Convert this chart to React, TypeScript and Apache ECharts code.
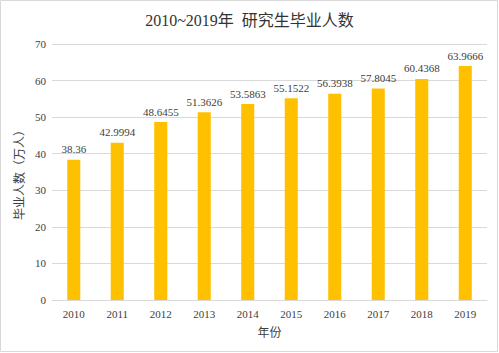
import React, { useEffect, useRef } from "react";
import * as echarts from "echarts";

const years = ["2010", "2011", "2012", "2013", "2014", "2015", "2016", "2017", "2018", "2019"];
const graduates = [38.36, 42.9994, 48.6455, 51.3626, 53.5863, 55.1522, 56.3938, 57.8045, 60.4368, 63.9666];
const titleText = "2010~2019年  研究生毕业人数";
const yName = "毕业人数（万人）";
const xName = "年份";

const serif = "'Liberation Serif', 'Noto Sans CJK SC', serif";
const cjk = "'Noto Sans CJK SC', sans-serif";

export default function App() {
  const ref = useRef<HTMLDivElement>(null);
  useEffect(() => {
    if (!ref.current) return;
    const chart = echarts.init(ref.current, undefined, { renderer: "svg" });
    chart.setOption({
      animation: false,
      backgroundColor: "#ffffff",
      title: {
        text: titleText,
        left: "center",
        top: 7,
        textStyle: { fontFamily: serif, fontSize: 16, fontWeight: "normal", color: "#333" },
      },
      graphic: [
        {
          type: "rect",
          shape: { x: 0.5, y: 0.5, width: 497, height: 351 },
          style: { fill: "none", stroke: "#d9d9d9", lineWidth: 1 },
          silent: true,
        },
      ],
      grid: { left: 52, right: 12, top: 44, bottom: 53 },
      xAxis: {
        type: "category",
        data: years,
        name: xName,
        nameLocation: "middle",
        nameGap: 25,
        nameTextStyle: { fontFamily: cjk, fontSize: 12, color: "#404040" },
        axisLine: { lineStyle: { color: "#d9d9d9" } },
        axisTick: { show: false },
        axisLabel: { fontFamily: serif, fontSize: 11, color: "#404040", margin: 8 },
      },
      yAxis: {
        type: "value",
        min: 0,
        max: 70,
        interval: 10,
        name: yName,
        nameLocation: "middle",
        nameGap: 26,
        nameRotate: 90,
        nameTextStyle: { fontFamily: cjk, fontSize: 12, color: "#404040" },
        axisLine: { show: false },
        axisTick: { show: false },
        axisLabel: { fontFamily: serif, fontSize: 11, color: "#404040", margin: 6 },
        splitLine: { lineStyle: { color: "#d9d9d9" } },
      },
      series: [
        {
          type: "bar",
          data: graduates,
          barWidth: "30%",
          itemStyle: { color: "#FFC000" },
          label: {
            show: true,
            position: "top",
            distance: 5,
            fontFamily: serif,
            fontSize: 11,
            color: "#404040",
          },
        },
      ],
    });
    return () => chart.dispose();
  }, []);
  return <div ref={ref} style={{ width: 499, height: 353, position: "absolute", left: 0, top: 0 }} />;
}
